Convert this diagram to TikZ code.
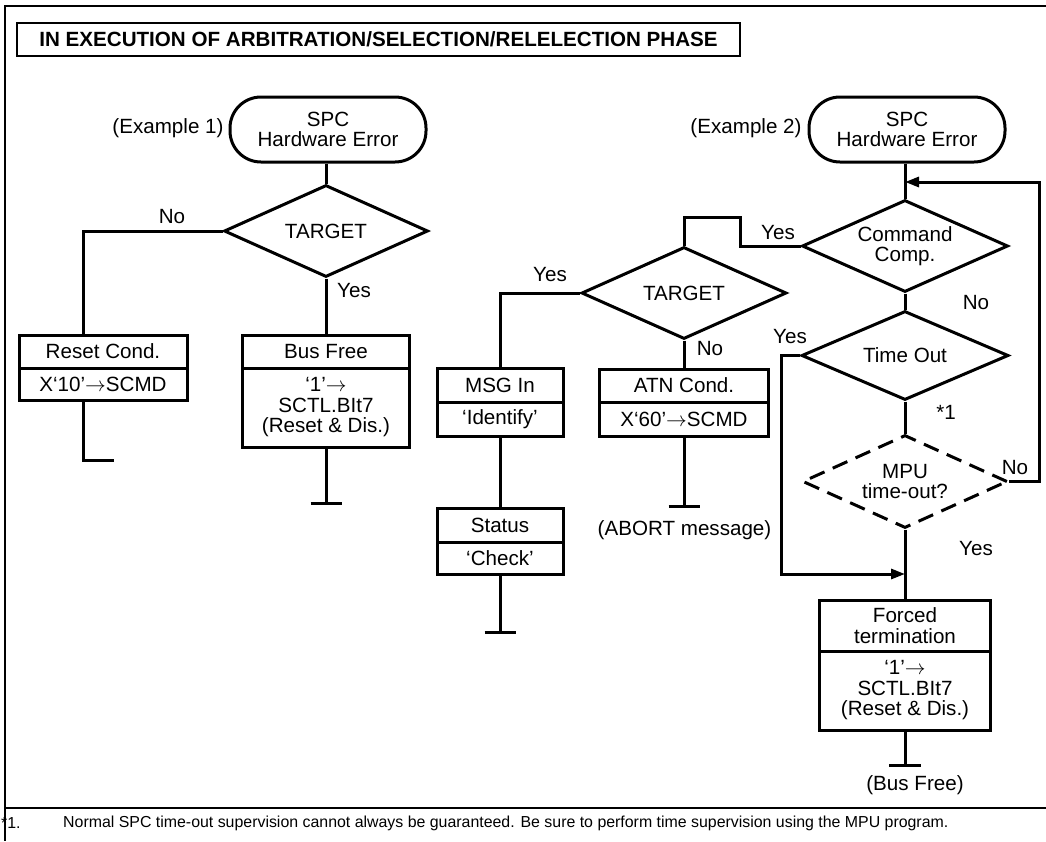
\documentclass[tikz,border=0pt]{standalone}
\usepackage{fontspec}
\setmainfont{Liberation Sans}
\usetikzlibrary{shapes.geometric,arrows.meta}
\newcommand{\toarrow}{\ensuremath{\rightarrow}}
\begin{document}
\begin{tikzpicture}[x=1pt,y=-1pt,
  every node/.style={font=\fontsize{20.6}{20.5}\selectfont},
  flow/.style={line width=3pt},
  frame/.style={line width=2.6pt},
  term/.style={draw,line width=3pt,rounded corners=31pt,minimum width=196pt,
    minimum height=65pt,align=center,inner sep=0pt},
  decide/.style={draw,diamond,aspect=2.2,line width=3pt,minimum width=205pt,
    minimum height=92pt,inner sep=0pt,align=center},
  cell/.style={draw,line width=3pt,align=center,inner sep=0pt},
  lbl/.style={inner sep=0pt},
  tail/.style={-{Triangle[length=14pt,width=10pt]}},
  endbar/.style={line width=3pt},
  fnote/.style={inner sep=0pt,anchor=west,font=\fontsize{15.9}{16}\selectfont},
]
\useasboundingbox (0,0) rectangle (1046,841);

% outer frame and footnote rule
\draw[frame] (1046,6) -- (5,6) -- (5,841);
\draw[frame] (5,808) -- (1046,808);

% heading
\node[draw,line width=2.6pt,minimum width=723pt,minimum height=33pt,inner sep=0pt,
  font=\fontsize{20.6}{20.5}\selectfont\bfseries] (title) at (378.5,39.5)
  {IN EXECUTION OF ARBITRATION/SELECTION/RELELECTION PHASE};

% ---------------- Example 1 ----------------
\node[lbl] (ex1) at (168,128) {(Example 1)};
\node[term] (t1) at (328,129.5) {SPC\\Hardware Error};
\node[decide,minimum width=204pt] (d1) at (326,231) {TARGET};
\node[cell,minimum width=168pt,minimum height=33pt] (rc) at (103,351.5) {Reset Cond.};
\node[cell,minimum width=168pt,minimum height=32pt] (rcb) at (103,384) {X‘10’\toarrow SCMD};
\node[cell,minimum width=167pt,minimum height=33pt] (bf) at (326,351.5) {Bus Free};
\node[cell,minimum width=167pt,minimum height=79pt] (bfb) at (326,407.5)
  {‘1’\toarrow\\SCTL.BIt7\\(Reset \& Dis.)};

\coordinate (nl) at (83,0);
\coordinate (rend) at (114,460);
\coordinate (bfend) at (326,503);

\draw[flow] (d1.north |- t1.south) -- (d1.north);
\draw[flow] (d1.west) -| (rc.north -| nl);
\draw[flow] (rcb.south -| nl) |- (rend);
\draw[flow] (d1.south) -- (bf.north);
\draw[flow] (bfb.south) -- (bfend);
\draw[endbar] ([xshift=-15.5pt]bfend) -- ([xshift=15.5pt]bfend);

\node[lbl] (no1) at (172,217) {No};
\node[lbl] (yes1) at (354,291) {Yes};

% ---------------- Example 2 ----------------
\node[lbl] (ex2) at (746,128) {(Example 2)};
\node[term] (t2) at (907,129.5) {SPC\\Hardware Error};
\node[decide,minimum width=206pt] (cc) at (905,246) {Command\\Comp.};
\node[decide,minimum width=207pt,minimum height=89pt] (to) at (905,355.5) {Time Out};
\node[decide,minimum height=93pt,dash pattern=on 16pt off 9pt] (mpu) at (905,481.5)
  {MPU\\time-out?};
\node[cell,minimum width=171pt,minimum height=51pt] (ft) at (905,625.5)
  {Forced\\termination};
\node[cell,minimum width=171pt,minimum height=79pt] (ftb) at (905,690.5)
  {‘1’\toarrow\\SCTL.BIt7\\(Reset \& Dis.)};

\node[decide] (d2) at (684,293) {TARGET};
\node[cell,minimum width=126pt,minimum height=34pt] (mi) at (500,385) {MSG In};
\node[cell,minimum width=126pt,minimum height=34pt] (mib) at (500,419) {‘Identify’};
\node[cell,minimum width=126pt,minimum height=34pt] (st) at (500,525) {Status};
\node[cell,minimum width=126pt,minimum height=32pt] (stb) at (500,558) {‘Check’};
\node[cell,minimum width=169pt,minimum height=33pt] (atn) at (684,385.5) {ATN Cond.};
\node[cell,minimum width=169pt,minimum height=34pt] (atnb) at (684,419) {X‘60’\toarrow SCMD};

\coordinate (yb1) at (740,217);
\coordinate (loopr) at (1039,182);
\coordinate (lyes) at (781,574);
\coordinate (stend) at (500,632);
\coordinate (atnend) at (684,506);
\coordinate (ftend) at (905,765);

\draw[flow] (cc.north |- t2.south) -- (cc.north);
\draw[flow] (cc.west) -| (yb1) -| (d2.north);
\draw[flow] (d2.west) -| (mi.north);
\draw[flow] (d2.south) -- (atn.north);
\draw[flow] (mib.south) -- (st.north);
\draw[flow] (stb.south) -- (stend);
\draw[endbar] ([xshift=-15.5pt]stend) -- ([xshift=15.5pt]stend);
\draw[flow] (atnb.south) -- (atnend);
\draw[endbar] ([xshift=-15.5pt]atnend) -- ([xshift=15.5pt]atnend);

\draw[flow] (cc.south) -- (to.north);
\draw[flow] (to.south) -- (mpu.north);
\draw[flow] (mpu.south) -- (ft.north);
\draw[flow,tail] (mpu.east) -| (loopr) -- (loopr -| cc.north);
\draw[flow,tail] (to.west) -| (lyes) -- (lyes -| ft.north);
\draw[flow] (ftb.south) -- (ftend);
\draw[endbar] ([xshift=-16pt]ftend) -- ([xshift=16pt]ftend);

\node[lbl] (yes2) at (778,233) {Yes};
\node[lbl] (yes3) at (550,275) {Yes};
\node[lbl] (no2) at (710,349) {No};
\node[lbl] (no3) at (976,303) {No};
\node[lbl] (yes4) at (790,337) {Yes};
\node[lbl] (note1) at (946,412) {*1};
\node[lbl] (no4) at (1015,468) {No};
\node[lbl] (yes5) at (976,549) {Yes};
\node[lbl] (abort) at (684.5,530) {(ABORT message)};
\node[lbl] (busfree) at (915,785) {(Bus Free)};

% footnote
\node[fnote] (fnmark) at (1,823) {*1.};
\node[fnote] (fntext) at (63,823)
  {Normal SPC time-out supervision cannot always be guaranteed. Be sure to perform time supervision using the MPU program.};
\end{tikzpicture}
\end{document}
